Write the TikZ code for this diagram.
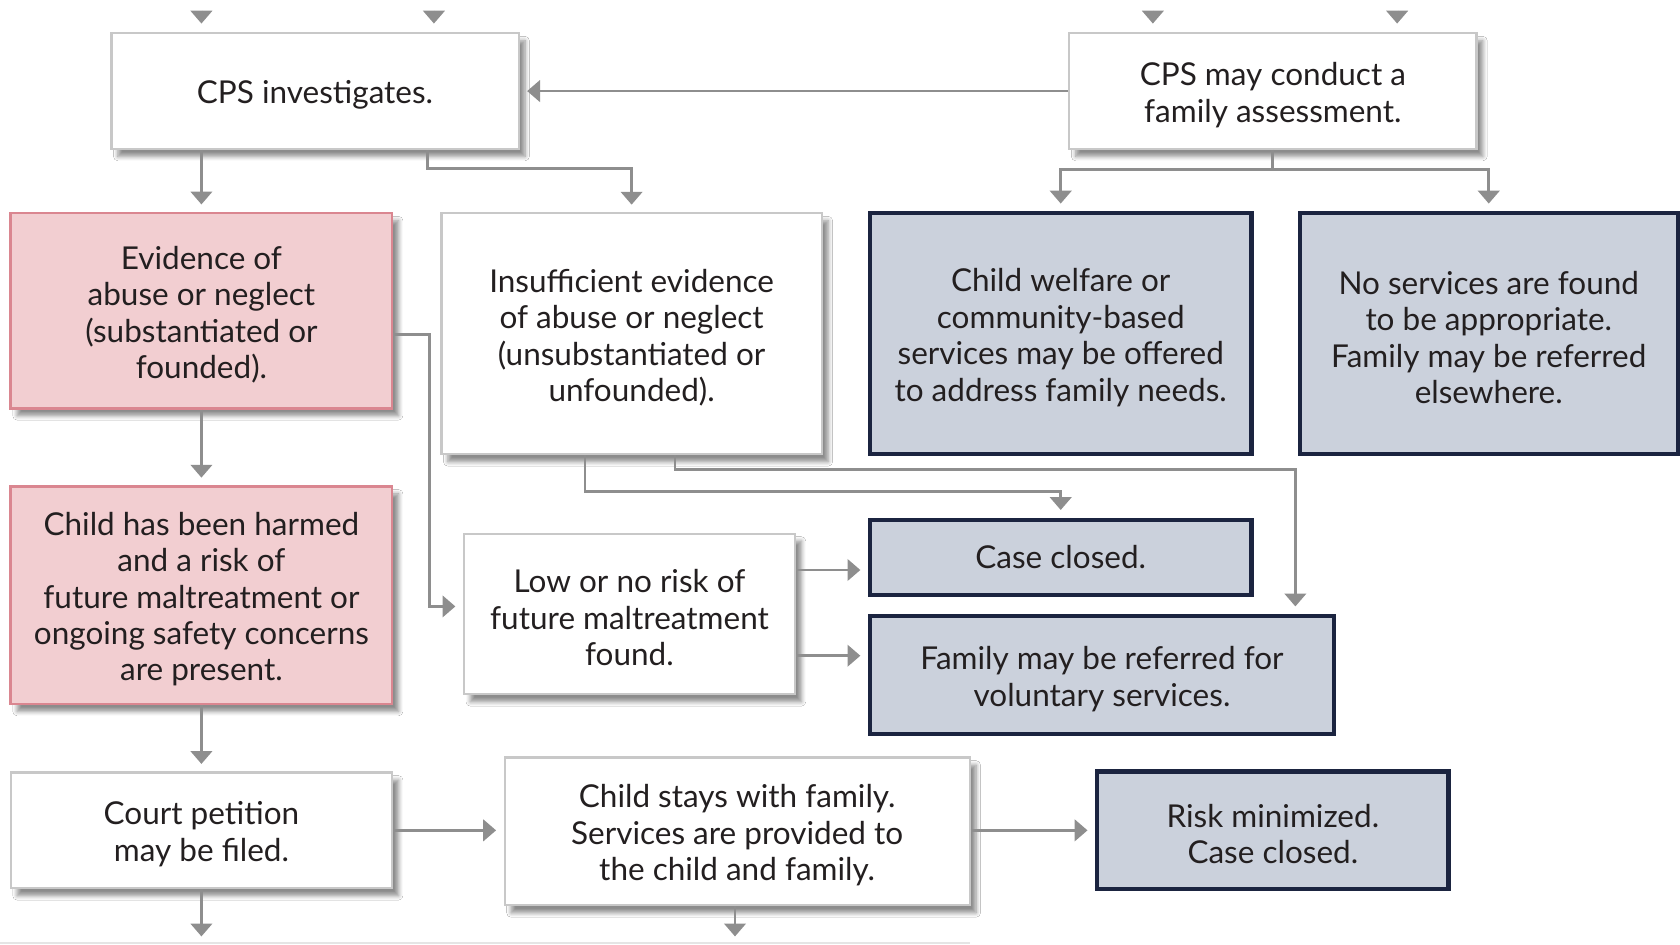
\documentclass[tikz,border=0pt]{standalone}
\usepackage{fontspec}
\setmainfont{Lato}
\usetikzlibrary{arrows.meta,shadows,shadows.blur,calc}
\definecolor{txt}{HTML}{231F20}
\definecolor{wborder}{HTML}{C8C8C8}
\definecolor{pfill}{HTML}{F2CED1}
\definecolor{pborder}{HTML}{DA8690}
\definecolor{bfill}{HTML}{CBD1DC}
\definecolor{bborder}{HTML}{1B2440}
\definecolor{agray}{HTML}{8E8E8E}
\newcommand{\firststrut}{\rule{0pt}{14.5pt}}
\begin{document}
\begin{tikzpicture}[x=0.5pt,y=-0.5pt,
  basebox/.style={rectangle, align=center, inner sep=0pt, text=txt,
    font=\fontsize{14.7}{17}\selectfont},
  shad/.style={blur shadow={shadow xshift=3pt, shadow yshift=-3.5pt, shadow blur steps=6, shadow opacity=45}},
  wbox/.style={basebox, draw=wborder, line width=1pt, fill=white, shad},
  pbox/.style={basebox, draw=pborder, line width=1.2pt, fill=pfill, shad},
  bbox/.style={basebox, draw=bborder, line width=2pt, fill=bfill},
  arr/.style={draw=agray, line width=1.3pt, -{Triangle[width=10pt,length=6pt]}, shorten >=3.5pt},
  tip/.style={draw=agray, line width=1.3pt, -{Triangle[width=10pt,length=6pt]}}
]
\useasboundingbox (0,0) rectangle (1568,882);
\fill[white] (0,0) rectangle (1568,882);

% faint edge of a box below
\draw[black!10, line width=1pt] (0,880) -- (905,880);

% nodes
\node[wbox, minimum width=190pt, minimum height=54pt] (inv) at (294,85) {\firststrut CPS investigates.};
\node[wbox, minimum width=190pt, minimum height=54pt] (fam) at (1188,85) {\firststrut CPS may conduct a\\family assessment.};
\node[pbox, minimum width=178pt, minimum height=91pt] (ev) at (188,290) {\firststrut Evidence of\\abuse or neglect\\(substantiated or\\founded).};
\node[wbox, minimum width=177.5pt, minimum height=112.5pt] (ins) at (589.5,311.5) {\firststrut Insufficient evidence\\of abuse or neglect\\(unsubstantiated or\\unfounded).};
\node[bbox, minimum width=178pt, minimum height=112.5pt] (cw) at (990,311.5) {\firststrut Child welfare or\\community-based\\services may be offered\\to address family needs.};
\node[bbox, minimum width=176.5pt, minimum height=112.5pt] (ns) at (1389.5,311.5) {\firststrut No services are found\\to be appropriate.\\Family may be referred\\elsewhere.};
\node[pbox, minimum width=178pt, minimum height=101.5pt] (harm) at (188,555.5) {\firststrut Child has been harmed\\and a risk of\\future maltreatment or\\ongoing safety concerns\\are present.};
\node[wbox, minimum width=154.5pt, minimum height=75pt] (low) at (587.5,573) {\firststrut Low or no risk of\\future maltreatment\\found.};
\node[bbox, minimum width=178pt, minimum height=35pt] (cc) at (990,520) {Case closed.};
\node[bbox, minimum width=216.5pt, minimum height=55pt] (vol) at (1028.5,630) {\firststrut Family may be referred for\\voluntary services.};
\node[wbox, minimum width=178pt, minimum height=54pt] (court) at (188,775) {\firststrut Court petition\\may be filed.};
\node[wbox, minimum width=217pt, minimum height=69pt] (stay) at (688,776) {\firststrut Child stays with family.\\Services are provided to\\the child and family.};
\node[bbox, minimum width=164pt, minimum height=55pt] (risk) at (1188,775) {\firststrut Risk minimized.\\Case closed.};

% incoming arrows cut off at the top
\coordinate (t1) at (188,22);
\coordinate (t2) at (405,22);
\coordinate (t3) at (1076,22);
\coordinate (t4) at (1304,22);
\foreach \c in {t1,t2,t3,t4}{\draw[tip] ([yshift=6pt]\c) -- (\c);}

% connectors
\draw[arr] (inv.south -| ev.north) -- (ev.north);
\draw[arr] ([xshift=-43pt]inv.south east) -- ++(0,17) -| (ins.north);
\draw[arr] (fam.west) -- (inv.east);
\draw[arr] (fam.south) -- ++(0,18) -| (cw.north);
\draw[arr] (fam.south) -- ++(0,18) -| (ns.north);
\draw[arr] (ev.south) -- (harm.north);
\draw[arr] ([yshift=-11pt]ev.east) -- ++(34,0) |- ([yshift=3.5pt]low.west);
\draw[arr] ([xshift=-21.75pt]ins.south) -- ++(0,34) -| (cc.north);
\draw[arr] ([xshift=20.25pt]ins.south) -- ++(0,13) -| ([xshift=-19pt]vol.north east);
\draw[arr] ([yshift=-6pt]cc.west -| low.east) -- ([yshift=-6pt]cc.west);
\draw[arr] ([yshift=9pt]vol.west -| low.east) -- ([yshift=9pt]vol.west);
\draw[arr] (harm.south) -- (court.north);
\draw[arr] (court.east) -- (court.east -| stay.west);
\draw[arr] (stay.east |- risk.west) -- (risk.west);

\coordinate (cb) at (188,874);
\coordinate (sb) at (686,874);
\draw[tip] (court.south) -- (cb);
\draw[tip] (sb |- stay.south) -- (sb);
\end{tikzpicture}
\end{document}
